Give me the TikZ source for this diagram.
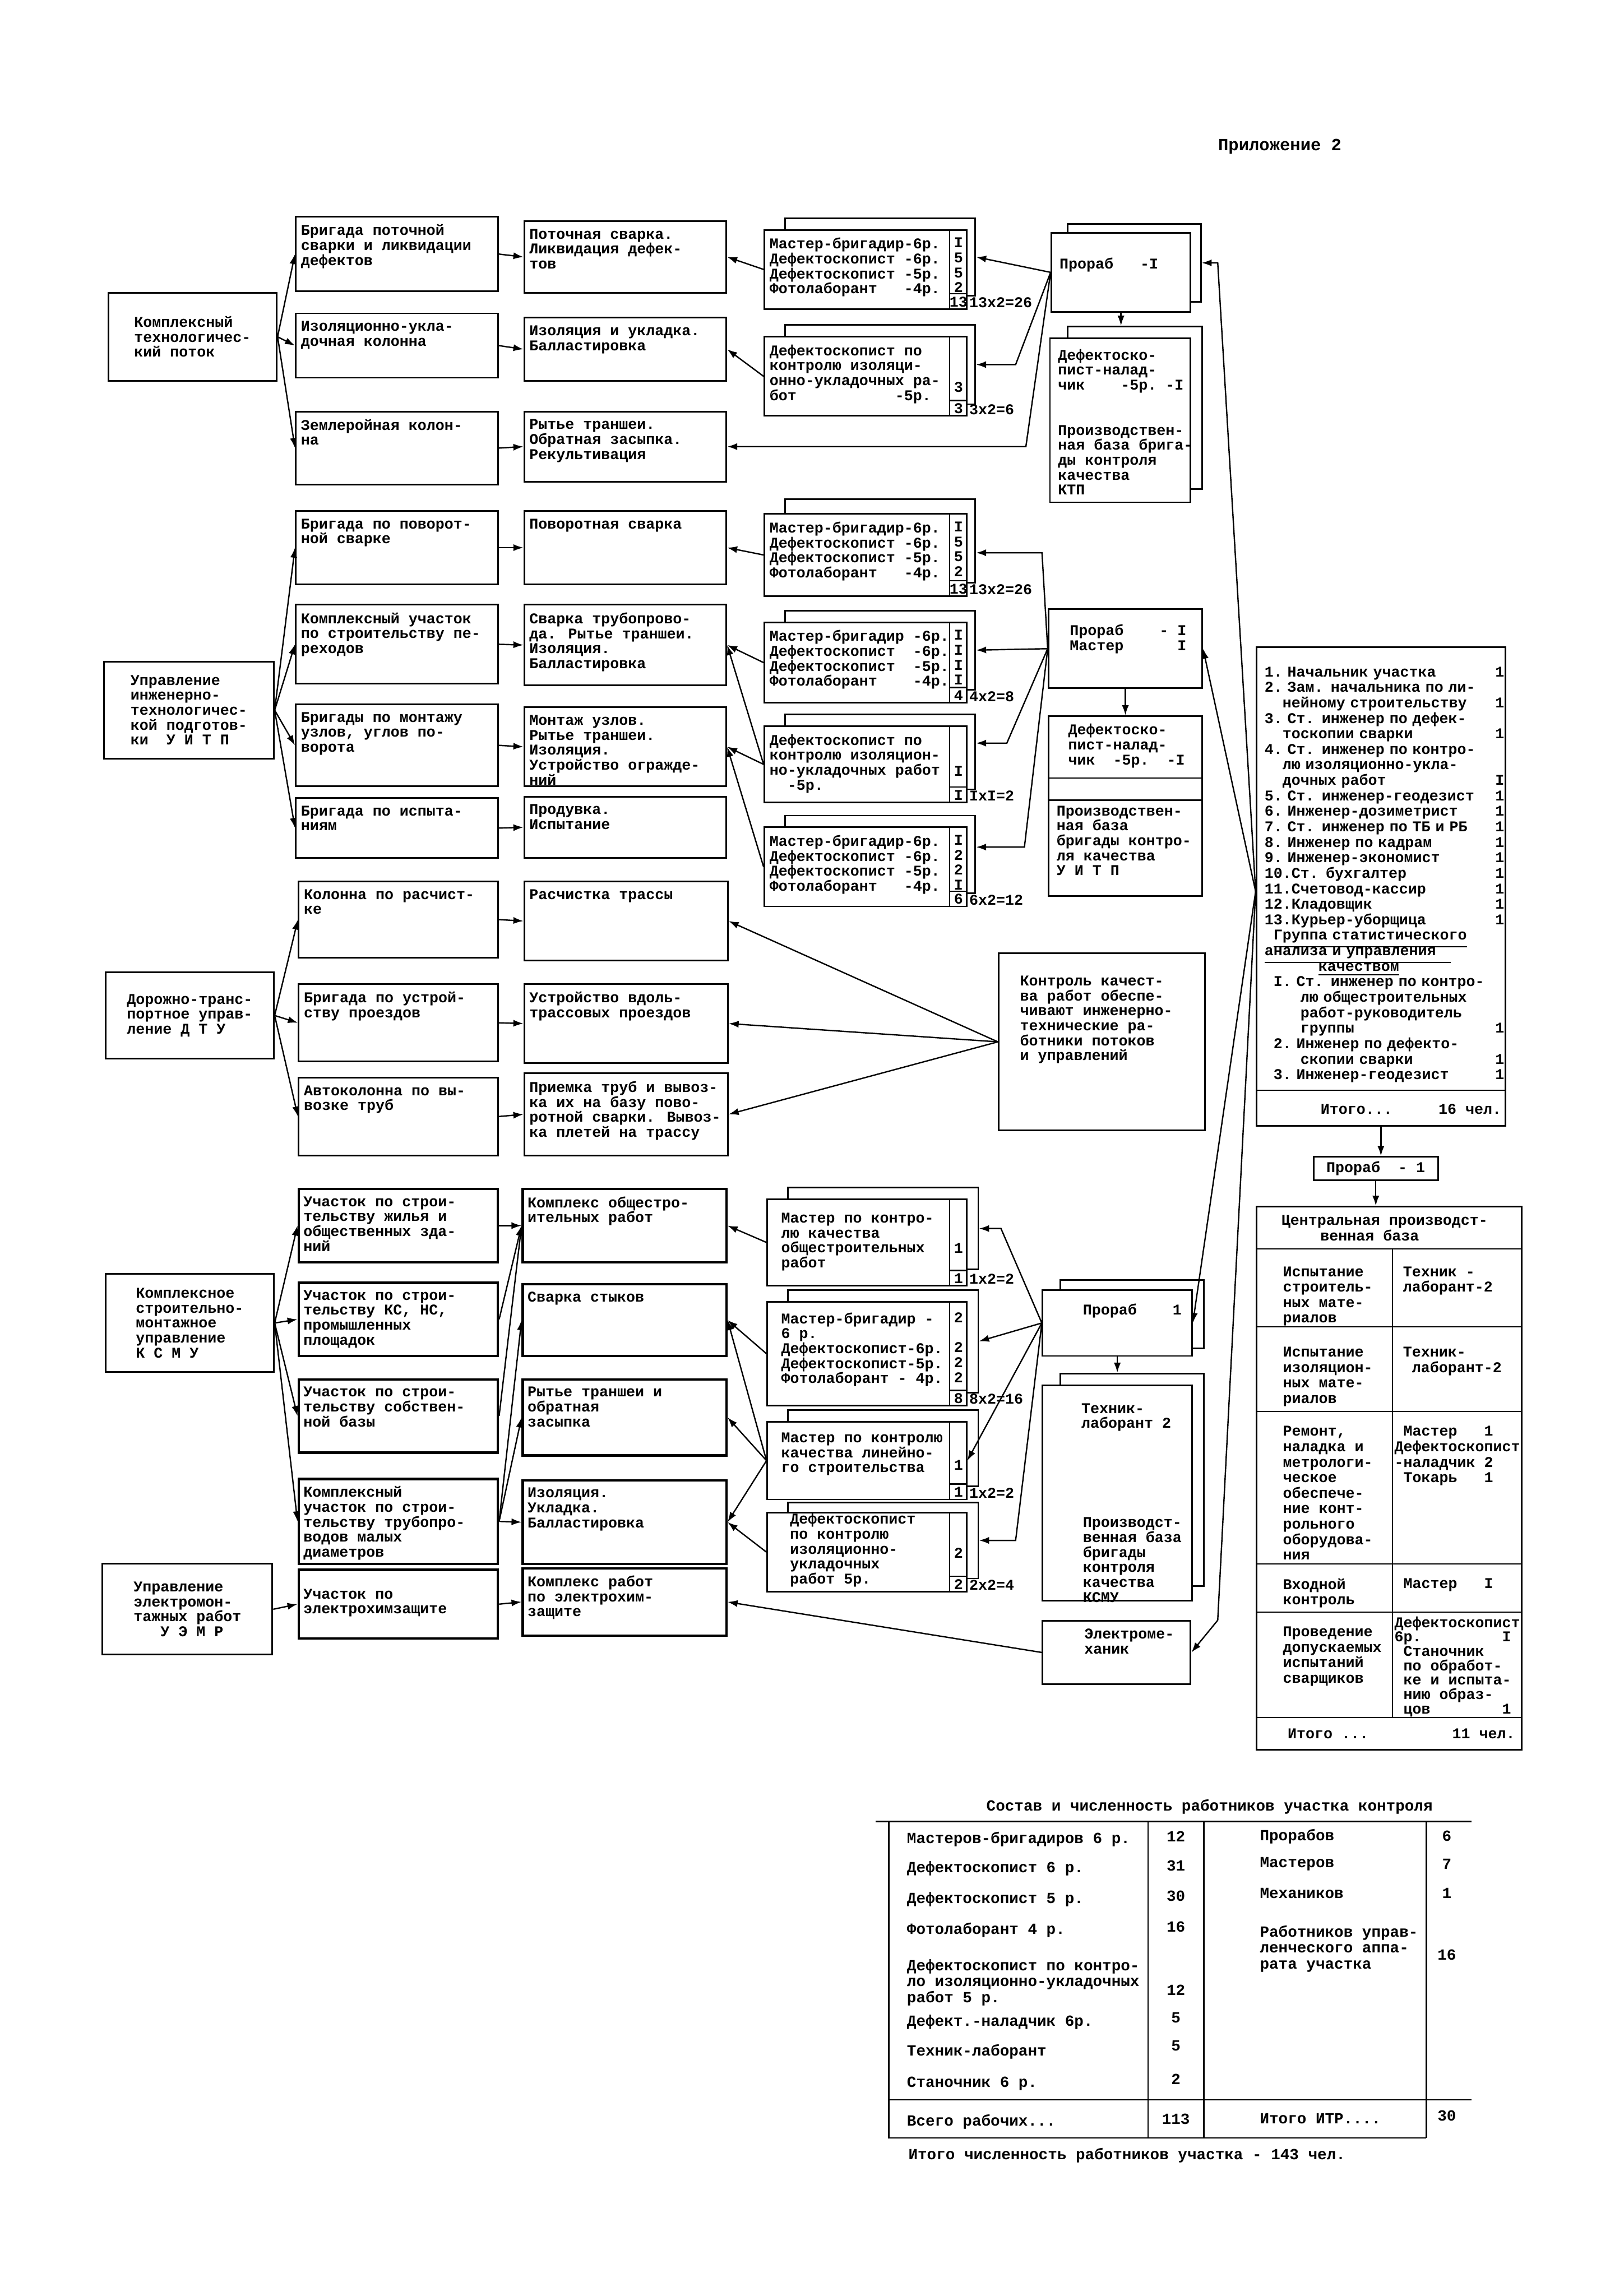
\documentclass[tikz,border=0pt]{standalone}
\usepackage{fontspec}
\usepackage{tikz}
\usetikzlibrary{arrows.meta,calc,fit}
\newfontfamily\tw{Liberation Mono}
\newcommand{\boxfont}{\tw\bfseries\fontsize{5.5}{5.5}\selectfont}
\newcommand{\listfont}{\tw\bfseries\fontsize{5.5}{5.7}\selectfont\lineskiplimit=-10pt\lineskip=0pt}
\newcommand{\basefont}{\tw\bfseries\fontsize{5.5}{5.7}\selectfont}
\newcommand{\tabfont}{\tw\bfseries\fontsize{5.7}{5.9}\selectfont}

\begin{document}
\begin{tikzpicture}[x=0.18936mm, y=-0.18936mm,
  every node/.style={font=\boxfont},
  box/.style={draw, fill=white, line width=.6pt, inner sep=0pt},
  heavy/.style={box, line width=.9pt},
  txt/.style={anchor=north west, align=left, inner xsep=2pt, inner ysep=3pt},
  num/.style={inner sep=0pt},
  arr/.style={-{Latex[length=1.3mm,width=.9mm]}, line width=.5pt},
  ln/.style={line width=.5pt}
]
\path[use as bounding box, fill=white] (0,0) rectangle (1109,1568);
\node[font=\tw\bfseries\fontsize{6.3}{6.3}\selectfont] (title) at (874,100) {Приложение 2};

\node[box, fit={(74,200) (189,260)}] (k1) {};
\node[align=left] (k1t) at (k1) {Комплексный\\технологичес-\\кий поток};
\node[box, fit={(202,148) (340,199)}] (k1a) {};
\node[txt] (k1at) at (k1a.north west) {Бригада поточной\\сварки и ликвидации\\дефектов};
\node[box, fit={(202,214) (340,258)}] (k1b) {};
\node[txt] (k1bt) at (k1b.north west) {Изоляционно-укла-\\дочная колонна};
\node[box, fit={(202,281) (340,331)}] (k1c) {};
\node[txt] (k1ct) at (k1c.north west) {Землеройная колон-\\на};
\node[box, fit={(358,151) (496,200)}] (r1a) {};
\node[txt] (r1at) at (r1a.north west) {Поточная сварка.\\Ликвидация дефек-\\тов};
\node[box, fit={(358,217) (496,260)}] (r1b) {};
\node[txt] (r1bt) at (r1b.north west) {Изоляция и укладка.\\Балластировка};
\node[box, fit={(358,281) (496,329)}] (r1c) {};
\node[txt] (r1ct) at (r1c.north west) {Рытье траншеи.\\Обратная засыпка.\\Рекультивация};

\node[box, fit={(536,149) (666,202)}] (s1ab) {};
\node[box, fit={(522,157) (660,211)}] (s1a) {};
\node[txt] (s1at) at (s1a.north west) {Мастер-бригадир-6р.\\Дефектоскопист -6р.\\Дефектоскопист -5р.\\Фотолаборант~~~-4р.};
\node[num, anchor=north, inner ysep=3pt, align=center] (s1an) at ($(s1a.north east)+(-6,0)$) {I\\5\\5\\2};
\node[num] (s1as) at ($(s1a.south east)+(-6,-5.5)$) {13};
\node[num, anchor=west] (s1ax) at ($(s1a.south east)+(1,-5)$) {13x2=26};
\node[box, fit={(536,222) (666,276)}] (s1bb) {};
\node[box, fit={(522,230) (660,284)}] (s1b) {};
\node[txt] (s1bt) at (s1b.north west) {Дефектоскопист по\\контролю изоляци-\\онно-укладочных ра-\\бот~~~~~~~~~~~-5р.};
\node[num] (s1bn) at ($(s1b.north east)+(-6,35)$) {3};
\node[num] (s1bs) at ($(s1b.south east)+(-6,-5.5)$) {3};
\node[num, anchor=west] (s1bx) at ($(s1b.south east)+(1,-5)$) {3x2=6};

\node[box, fit={(729,153) (820,206)}] (p1b) {};
\node[box, fit={(718,159) (813,213)}] (p1) {};
\node[txt, anchor=west] (p1t) at ($(p1.west)+(2,-5)$) {Прораб~~~-I};
\node[box, fit={(729,223) (821,334)}] (d1b) {};
\node[box, fit={(717,231) (813,343)}] (d1) {};
\node[txt] (d1t) at ($(d1.north west)+(2,2)$) {Дефектоско-\\пист-налад-\\чик~~~~-5р.~-I};
\node[txt] (d1u) at ($(d1.north west)+(2,54)$) {Производствен-\\ная база брига-\\ды контроля\\качества\\КТП};

\draw[arr] (k1.east) -- (k1a.west);
\draw[arr] (k1.east) -- (k1b.west);
\draw[arr] (k1.east) -- (k1c.west);
\draw[arr] (k1a.east) -- (r1a.west);
\draw[arr] (k1b.east) -- (r1b.west);
\draw[arr] (k1c.east) -- (r1c.west);
\draw[arr] (s1a.west) -- (r1a.east);
\draw[arr] (s1b.west) -- (r1b.east);
\draw[arr] (p1.west) -- (s1ab.east);
\draw[arr] (p1.west) -- ($(s1bb.east)+(27,0)$) -- (s1bb.east);
\draw[arr] (p1.west) -- ($(r1c.east)+(204,0)$) -- (r1c.east);
\draw[arr] (p1.south) -- (p1.south |- d1b.north);

\node[box, fit={(71,452) (187,518)}] (k2) {};
\node[align=left] (k2t) at (k2) {Управление\\инженерно-\\технологичес-\\кой подготов-\\ки~~У~И~Т~П};
\node[box, fit={(202,349) (340,399)}] (k2a) {};
\node[txt] (k2at) at (k2a.north west) {Бригада по поворот-\\ной сварке};
\node[box, fit={(202,413) (340,467)}] (k2b) {};
\node[txt] (k2bt) at (k2b.north west) {Комплексный участок\\по строительству пе-\\реходов};
\node[box, fit={(202,481) (340,537)}] (k2c) {};
\node[txt] (k2ct) at (k2c.north west) {Бригады по монтажу\\узлов, углов по-\\ворота};
\node[box, fit={(202,545) (340,586)}] (k2d) {};
\node[txt] (k2dt) at (k2d.north west) {Бригада по испыта-\\ниям};
\node[box, fit={(358,349) (496,399)}] (r2a) {};
\node[txt] (r2at) at (r2a.north west) {Поворотная сварка};
\node[box, fit={(358,413) (496,468)}] (r2b) {};
\node[txt] (r2bt) at (r2b.north west) {Сварка трубопрово-\\да. Рытье траншеи.\\Изоляция.\\Балластировка};
\node[box, fit={(358,483) (496,537)}] (r2c) {};
\node[txt] (r2ct) at (r2c.north west) {Монтаж узлов.\\Рытье траншеи.\\Изоляция.\\Устройство огражде-\\ний};
\node[box, fit={(358,544) (496,586)}] (r2d) {};
\node[txt] (r2dt) at (r2d.north west) {Продувка.\\Испытание};

\node[box, fit={(536,341) (666,398)}] (s2ab) {};
\node[box, fit={(522,351) (660,407)}] (s2a) {};
\node[txt] (s2at) at (s2a.north west) {Мастер-бригадир-6р.\\Дефектоскопист -6р.\\Дефектоскопист -5р.\\Фотолаборант~~~-4р.};
\node[num, anchor=north, inner ysep=3pt, align=center] (s2an) at ($(s2a.north east)+(-6,0)$) {I\\5\\5\\2};
\node[num] (s2as) at ($(s2a.south east)+(-6,-5.5)$) {13};
\node[num, anchor=west] (s2ax) at ($(s2a.south east)+(1,-5)$) {13x2=26};
\node[box, fit={(536,417) (666,471)}] (s2bb) {};
\node[box, fit={(522,425) (660,480)}] (s2b) {};
\node[txt] (s2bt) at (s2b.north west) {Мастер-бригадир~-6р.\\Дефектоскопист~~-6р.\\Дефектоскопист~~-5р.\\Фотолаборант~~~~-4р.};
\node[num, anchor=north, inner ysep=3pt, align=center] (s2bn) at ($(s2b.north east)+(-6,0)$) {I\\I\\I\\I};
\node[num] (s2bs) at ($(s2b.south east)+(-6,-5.5)$) {4};
\node[num, anchor=west] (s2bx) at ($(s2b.south east)+(1,-5)$) {4x2=8};
\node[box, fit={(536,488) (666,539)}] (s2cb) {};
\node[box, fit={(522,496) (660,548)}] (s2c) {};
\node[txt] (s2ct) at (s2c.north west) {Дефектоскопист по\\контролю изоляцион-\\но-укладочных работ\\~~-5р.};
\node[num] (s2cn) at ($(s2c.north east)+(-6,31)$) {I};
\node[num] (s2cs) at ($(s2c.south east)+(-6,-5.5)$) {I};
\node[num, anchor=west] (s2cx) at ($(s2c.south east)+(1,-5)$) {IxI=2};
\node[box, fit={(536,557) (666,610)}] (s2db) {};
\node[box, fit={(522,565) (660,619)}] (s2d) {};
\node[txt] (s2dt) at (s2d.north west) {Мастер-бригадир-6р.\\Дефектоскопист -6р.\\Дефектоскопист -5р.\\Фотолаборант~~~-4р.};
\node[num, anchor=north, inner ysep=3pt, align=center] (s2dn) at ($(s2d.north east)+(-6,0)$) {I\\2\\2\\I};
\node[num] (s2ds) at ($(s2d.south east)+(-6,-5.5)$) {6};
\node[num, anchor=west] (s2dx) at ($(s2d.south east)+(1,-5)$) {6x2=12};

\node[box, fit={(716,416) (821,470)}] (p2) {};
\node[txt] (p2t) at ($(p2.north west)+(11,5)$) {Прораб~~~~-~I\\Мастер~~~~~~I};
\node[box, fit={(716,489) (821,612)}] (d2) {};
\draw[ln] ($(d2.north west)+(0,43)$) -- ($(d2.north east)+(0,43)$);
\draw[ln] ($(d2.north west)+(0,58)$) -- ($(d2.north east)+(0,58)$);
\node[txt] (d2t) at ($(d2.north west)+(10,0)$) {Дефектоско-\\пист-налад-\\чик~~-5р.~~-I};
\node[txt] (d2u) at ($(d2.north west)+(2,56)$) {Производствен-\\ная база\\бригады контро-\\ля качества\\У~И~Т~П};

\draw[arr] (k2.east) -- (k2a.west);
\draw[arr] (k2.east) -- (k2b.west);
\draw[arr] (k2.east) -- (k2c.west);
\draw[arr] (k2.east) -- (k2d.west);
\draw[arr] (k2a.east) -- (r2a.west);
\draw[arr] (k2b.east) -- (r2b.west);
\draw[arr] (k2c.east) -- (r2c.west);
\draw[arr] (k2d.east) -- (r2d.west);
\draw[arr] (s2a.west) -- (r2a.east);
\draw[arr] (s2b.west) -- (r2b.east);
\draw[arr] (s2c.west) -- (r2b.east);
\draw[arr] (s2c.west) -- (r2c.east);
\draw[arr] (s2d.west) -- (r2c.east);
\draw[arr] (p2.west) -- ($(s2ab.east)+(45,8)$) -- ($(s2ab.east)+(0,8)$);
\draw[arr] (p2.west) -- (s2bb.east);
\draw[arr] (p2.west) -- ($(s2cb.east)+(21,-6)$) -- ($(s2cb.east)+(0,-6)$);
\draw[arr] (p2.west) -- ($(s2db.east)+(33,-5)$) -- ($(s2db.east)+(0,-5)$);
\draw[arr] (p2.south) -- (d2.north);

\node[box, fit={(72,664) (187,723)}] (k3) {};
\node[align=left] (k3t) at (k3) {Дорожно-транс-\\портное управ-\\ление~Д~Т~У};
\node[box, fit={(204,602) (340,654)}] (k3a) {};
\node[txt] (k3at) at (k3a.north west) {Колонна по расчист-\\ке};
\node[box, fit={(204,672) (340,725)}] (k3b) {};
\node[txt] (k3bt) at (k3b.north west) {Бригада по устрой-\\ству проездов};
\node[box, fit={(204,736) (340,789)}] (k3c) {};
\node[txt] (k3ct) at (k3c.north west) {Автоколонна по вы-\\возке труб};
\node[box, fit={(358,602) (497,656)}] (r3a) {};
\node[txt] (r3at) at (r3a.north west) {Расчистка трассы};
\node[box, fit={(358,672) (497,726)}] (r3b) {};
\node[txt] (r3bt) at (r3b.north west) {Устройство вдоль-\\трассовых проездов};
\node[box, fit={(358,733) (497,789)}] (r3c) {};
\node[txt] (r3ct) at (r3c.north west) {Приемка труб и вывоз-\\ка их на базу пово-\\ротной сварки. Вывоз-\\ка плетей на трассу};
\node[box, fit={(682,651) (823,772)}] (q3) {};
\node[txt] (q3t) at ($(q3.north west)+(11,10)$) {Контроль качест-\\ва работ обеспе-\\чивают инженерно-\\технические ра-\\ботники потоков\\и управлений};

\draw[arr] (k3.east) -- (k3a.west);
\draw[arr] (k3.east) -- (k3b.west);
\draw[arr] (k3.east) -- (k3c.west);
\draw[arr] (k3a.east) -- (r3a.west);
\draw[arr] (k3b.east) -- (r3b.west);
\draw[arr] (k3c.east) -- (r3c.west);
\draw[arr] (q3.west) -- (r3a.east);
\draw[arr] (q3.west) -- (r3b.east);
\draw[arr] (q3.west) -- (r3c.east);

\node[box, fit={(72,870) (187,937)}] (k4) {};
\node[align=left] (k4t) at (k4) {Комплексное\\строительно-\\монтажное\\управление\\К~С~М~У};
\node[box, fit={(70,1068) (186,1130)}] (k5) {};
\node[align=left] (k5t) at (k5) {Управление\\электромон-\\тажных работ\\~~~У~Э~М~Р};
\node[heavy, fit={(204,812) (340,862)}] (k4a) {};
\node[txt] (k4at) at (k4a.north west) {Участок по строи-\\тельству жилья и\\общественных зда-\\ний};
\node[heavy, fit={(204,876) (340,926)}] (k4b) {};
\node[txt] (k4bt) at (k4b.north west) {Участок по строи-\\тельству КС, НС,\\промышленных\\площадок};
\node[heavy, fit={(204,942) (340,992)}] (k4c) {};
\node[txt] (k4ct) at (k4c.north west) {Участок по строи-\\тельству собствен-\\ной базы};
\node[heavy, fit={(204,1010) (340,1068)}] (k4d) {};
\node[txt] (k4dt) at (k4d.north west) {Комплексный\\участок по строи-\\тельству трубопро-\\водов малых\\диаметров};
\node[heavy, fit={(204,1072) (340,1119)}] (k4e) {};
\node[txt] (k4et) at ($(k4e.north west)+(0,8)$) {Участок по\\электрохимзащите};
\node[heavy, fit={(357,812) (496,862)}] (r4a) {};
\node[txt] (r4at) at (r4a.north west) {Комплекс общестро-\\ительных работ};
\node[heavy, fit={(357,877) (496,926)}] (r4b) {};
\node[txt] (r4bt) at (r4b.north west) {Сварка стыков};
\node[heavy, fit={(357,942) (496,994)}] (r4c) {};
\node[txt] (r4ct) at (r4c.north west) {Рытье траншеи и\\обратная\\засыпка};
\node[heavy, fit={(357,1011) (496,1068)}] (r4d) {};
\node[txt] (r4dt) at (r4d.north west) {Изоляция.\\Укладка.\\Балластировка};
\node[heavy, fit={(357,1071) (496,1117)}] (r4e) {};
\node[txt] (r4et) at (r4e.north west) {Комплекс работ\\по электрохим-\\защите};

\node[box, fit={(538,811) (668,867)}] (s4ab) {};
\node[box, fit={(524,819) (660,878)}] (s4a) {};
\node[txt] (s4at) at ($(s4a.north west)+(6,4)$) {Мастер по контро-\\лю качества\\общестроительных\\работ};
\node[num] (s4an) at ($(s4a.north east)+(-6,34)$) {1};
\node[num] (s4as) at ($(s4a.south east)+(-6,-5.5)$) {1};
\node[num, anchor=west] (s4ax) at ($(s4a.south east)+(1,-5)$) {1x2=2};
\node[box, fit={(538,881) (668,951)}] (s4bb) {};
\node[box, fit={(524,889) (660,960)}] (s4b) {};
\node[txt] (s4bt) at ($(s4b.north west)+(6,2)$) {Мастер-бригадир~-\\6~р.\\Дефектоскопист-6р.\\Дефектоскопист-5р.\\Фотолаборант~-~4р.};
\node[num, anchor=north, inner ysep=3pt, align=center] (s4bn) at ($(s4b.north east)+(-6,2)$) {2\\~\\2\\2\\2};
\node[num] (s4bs) at ($(s4b.south east)+(-6,-5.5)$) {8};
\node[num, anchor=west] (s4bx) at ($(s4b.south east)+(1,-5)$) {8x2=16};
\node[box, fit={(538,963) (668,1015)}] (s4cb) {};
\node[box, fit={(524,971) (660,1024)}] (s4c) {};
\node[txt] (s4ct) at ($(s4c.north west)+(6,2)$) {Мастер по контролю\\качества линейно-\\го строительства};
\node[num] (s4cn) at ($(s4c.north east)+(-6,30)$) {1};
\node[num] (s4cs) at ($(s4c.south east)+(-6,-5.5)$) {1};
\node[num, anchor=west] (s4cx) at ($(s4c.south east)+(1,-5)$) {1x2=2};
\node[box, fit={(538,1026) (668,1078)}] (s4db) {};
\node[box, fit={(524,1033) (660,1087)}] (s4d) {};
\node[txt] (s4dt) at ($(s4d.north west)+(12,-5)$) {Дефектоскопист\\по контролю\\изоляционно-\\укладочных\\работ 5р.};
\node[num] (s4dn) at ($(s4d.north east)+(-6,28)$) {2};
\node[num] (s4ds) at ($(s4d.south east)+(-6,-5.5)$) {2};
\node[num, anchor=west] (s4dx) at ($(s4d.south east)+(1,-5)$) {2x2=4};

\foreach \s in {s1a,s1b,s2a,s2b,s2c,s2d,s4a,s4b,s4c,s4d}{
  \draw[ln] ($(\s.north east)+(-12,0)$) -- ($(\s.south east)+(-12,0)$);
  \draw[ln] ($(\s.south east)+(-12,-11)$) -- ($(\s.south east)+(0,-11)$);
}

\node[box, fit={(724,874) (822,921)}] (p4b) {};
\node[box, fit={(712,881) (814,926)}] (p4) {};
\node[txt] (p4t) at ($(p4.north west)+(24,4)$) {Прораб~~~~1};
\node[box, fit={(724,938) (822,1083)}] (t4b) {};
\node[box, fit={(712,946) (814,1093)}] (t4) {};
\node[txt] (t4t) at ($(t4.north west)+(23,7)$) {Техник-\\лаборант 2};
\node[txt] (t4u) at ($(t4.north west)+(24,85)$) {Производст-\\венная база\\бригады\\контроля\\качества\\КСМУ};
\node[box, fit={(712,1107) (813,1150)}] (e4) {};
\node[txt] (e4t) at ($(e4.north west)+(25,0)$) {Электроме-\\ханик};

\draw[arr] (k4.east) -- (k4a.west);
\draw[arr] (k4.east) -- (k4b.west);
\draw[arr] (k4.east) -- (k4c.west);
\draw[arr] (k4.east) -- (k4d.west);
\draw[arr] (k5.east) -- (k4e.west);
\draw[arr] (k4a.east) -- (r4a.west);
\draw[arr] (k4b.east) -- (r4a.west);
\draw[arr] (k4c.east) -- (r4a.west);
\draw[arr] (k4d.east) -- (r4b.west);
\draw[arr] (k4d.east) -- (r4c.west);
\draw[arr] (k4d.east) -- (r4d.west);
\draw[arr] (k4e.east) -- (r4e.west);
\draw[arr] (s4a.west) -- (r4a.east);
\draw[arr] (s4b.west) -- (r4b.east);
\draw[arr] (s4c.west) -- (r4b.east);
\draw[arr] (s4c.west) -- (r4c.east);
\draw[arr] (s4c.west) -- (r4d.east);
\draw[arr] (s4d.west) -- (r4d.east);
\draw[arr] (p4.west) -- ($(s4ab.east)+(15,0)$) -- (s4ab.east);
\draw[arr] (p4.west) -- (s4bb.east);
\draw[arr] (p4.west) -- (s4c.east);
\draw[arr] (p4.west) -- ($(s4db.east)+(25,0)$) -- (s4db.east);
\draw[arr] (p4.south) -- (p4.south |- t4b.north);
\draw[arr] (e4.west) -- (r4e.east);

\node[box, fit={(858,442) (1028,769)}] (m) {};
\node[txt, font=\listfont, text width=3.1cm] (mt) at ($(m.north west)+(2,8)$) {1.~Начальник участка\hfill 1\\
2.~Зам. начальника по ли-\\
\hspace*{1.2em}нейному строительству\hfill 1\\
3.~Ст. инженер по дефек-\\
\hspace*{1.2em}тоскопии сварки\hfill 1\\
4.~Ст. инженер по контро-\\
\hspace*{1.2em}лю изоляционно-укла-\\
\hspace*{1.2em}дочных работ\hfill I\\
5.~Ст. инженер-геодезист\hfill 1\\
6.~Инженер-дозиметрист\hfill 1\\
7.~Ст. инженер по ТБ и РБ\hfill 1\\
8.~Инженер по кадрам\hfill 1\\
9.~Инженер-экономист\hfill 1\\
10.Ст. бухгалтер\hfill 1\\
11.Счетовод-кассир\hfill 1\\
12.Кладовщик\hfill 1\\
13.Курьер-уборщица\hfill 1\\
\hspace*{.6em}\smash{\underline{Группа статистического}}\\
\smash{\underline{анализа и управления~~~}}\\
\hspace*{3.6em}\smash{\underline{качеством}}\\
\hspace*{.6em}I.~Ст. инженер по контро-\\
\hspace*{2.4em}лю общестроительных\\
\hspace*{2.4em}работ-руководитель\\
\hspace*{2.4em}группы\hfill 1\\
\hspace*{.6em}2.~Инженер по дефекто-\\
\hspace*{2.4em}скопии сварки\hfill 1\\
\hspace*{.6em}3.~Инженер-геодезист\hfill 1};
\draw[ln] ($(m.south west)+(0,-25)$) -- ($(m.south east)+(0,-25)$);
\node[num, font=\listfont, anchor=west] (mi) at ($(m.south west)+(44,-12)$) {Итого...};
\node[num, font=\listfont, anchor=east] (mc) at ($(m.south east)+(-3,-12)$) {16~чел.};
\coordinate (mj) at ($(m.north west)!0.51!(m.south west)$);

\node[box, fit={(897,790) (982,806)}] (pc) {};
\node[font=\basefont, inner sep=0pt] (pct) at (pc) {Прораб~~-~1};
\node[box, fit={(858,824) (1039,1195)}] (b) {};
\foreach \y in {853,906,964,1068,1101,1173}{
  \draw[ln] (858,\y) -- (1039,\y);
}
\draw[ln] (951,853) -- (951,1173);
\node[txt, font=\basefont] (bh) at (871,824) {Центральная производст-\\\hspace*{2.6em}венная база};
\node[txt, font=\basefont] (b1l) at (872,859) {Испытание\\строитель-\\ных мате-\\риалов};
\node[txt, font=\basefont] (b1r) at (954,859) {Техник~-\\лаборант-2};
\node[txt, font=\basefont] (b2l) at (872,914) {Испытание\\изоляцион-\\ных мате-\\риалов};
\node[txt, font=\basefont] (b2r) at (954,914) {Техник-\\~лаборант-2};
\node[txt, font=\basefont] (b3l) at (872,968) {Ремонт,\\наладка и\\метрологи-\\ческое\\обеспече-\\ние конт-\\рольного\\оборудова-\\ния};
\node[txt, font=\basefont, inner xsep=.5pt] (b3r) at (951,968) {~Мастер~~~1\\Дефектоскопист\\-наладчик~2\\~Токарь~~~1};
\node[txt, font=\basefont] (b4l) at (872,1072) {Входной\\контроль};
\node[txt, font=\basefont, inner xsep=.5pt] (b4r) at (951,1072) {~Мастер~~~I};
\node[txt, font=\basefont] (b5l) at (872,1105) {Проведение\\допускаемых\\испытаний\\сварщиков};
\node[txt, font=\tw\bfseries\fontsize{5.5}{5.3}\selectfont, inner xsep=.5pt] (b5r) at (951,1098) {Дефектоскопист\\6р.~~~~~~~~~I\\~Станочник\\~по обработ-\\~ке и испыта-\\~нию образ-\\~цов~~~~~~~~1};
\node[num, font=\basefont, anchor=west] (b6l) at (879,1184) {Итого~...};
\node[num, font=\basefont, anchor=east] (b6r) at (1035,1184) {11~чел.};

\draw[arr] (mj) -- ($(p1b.east)+(11,0)$) -- (p1b.east);
\draw[arr] (mj) -- (p2.east);
\draw[arr] (mj) -- (p4.east);
\draw[arr] (mj) -- ($(e4.east)+(18,-22)$) -- (e4.east);
\draw[arr] (m.south) -- (m.south |- pc.north);
\draw[arr] (pc.south) -- (pc.south |- b.north);

\node[font=\tabfont] (tt) at (826,1234) {Состав и численность работников участка контроля};
\draw[ln] (598,1244) -- (1005,1244);
\draw[ln] (607,1244) -- (607,1460) -- (974,1460);
\draw[ln] (784,1244) -- (784,1460);
\draw[ln] (822,1244) -- (822,1460);
\draw[ln] (974,1244) -- (974,1460);
\draw[ln] (607,1434) -- (1005,1434);
\node[num, font=\tabfont, anchor=west] (ta1) at (619,1256) {Мастеров-бригадиров 6 р.};
\node[num, font=\tabfont, anchor=west] (ta2) at (619,1276) {Дефектоскопист 6 р.};
\node[num, font=\tabfont, anchor=west] (ta3) at (619,1297) {Дефектоскопист 5 р.};
\node[num, font=\tabfont, anchor=west] (ta4) at (619,1318) {Фотолаборант 4 р.};
\node[txt, font=\tabfont, inner xsep=0pt] (ta5) at (619,1332) {Дефектоскопист по контро-\\ло изоляционно-укладочных\\работ 5 р.};
\node[num, font=\tabfont, anchor=west] (ta6) at (619,1381) {Дефект.-наладчик 6р.};
\node[num, font=\tabfont, anchor=west] (ta7) at (619,1401) {Техник-лаборант};
\node[num, font=\tabfont, anchor=west] (ta8) at (619,1423) {Станочник 6 р.};
\node[num, font=\tabfont, anchor=west] (ta9) at (619,1449) {Всего рабочих...};
\node[num, font=\tabfont] (tn1) at (803,1254) {12};
\node[num, font=\tabfont] (tn2) at (803,1274) {31};
\node[num, font=\tabfont] (tn3) at (803,1295) {30};
\node[num, font=\tabfont] (tn4) at (803,1316) {16};
\node[num, font=\tabfont] (tn5) at (803,1359) {12};
\node[num, font=\tabfont] (tn6) at (803,1378) {5};
\node[num, font=\tabfont] (tn7) at (803,1397) {5};
\node[num, font=\tabfont] (tn8) at (803,1420) {2};
\node[num, font=\tabfont] (tn9) at (803,1447) {113};
\node[num, font=\tabfont, anchor=west] (tb1) at (860,1254) {Прорабов};
\node[num, font=\tabfont, anchor=west] (tb2) at (860,1273) {Мастеров};
\node[num, font=\tabfont, anchor=west] (tb3) at (860,1293) {Механиков};
\node[txt, font=\tabfont, inner xsep=0pt] (tb4) at (860,1309) {Работников управ-\\ленческого аппа-\\рата участка};
\node[num, font=\tabfont, anchor=west] (tb5) at (860,1447) {Итого ИТР....};
\node[num, font=\tabfont] (tm1) at (988,1254) {6};
\node[num, font=\tabfont] (tm2) at (988,1273) {7};
\node[num, font=\tabfont] (tm3) at (988,1293) {1};
\node[num, font=\tabfont] (tm4) at (988,1335) {16};
\node[num, font=\tabfont] (tm5) at (988,1445) {30};
\node[num, font=\tabfont, anchor=west] (tend) at (620,1472) {Итого численность работников участка - 143 чел.};
\end{tikzpicture}
\end{document}
